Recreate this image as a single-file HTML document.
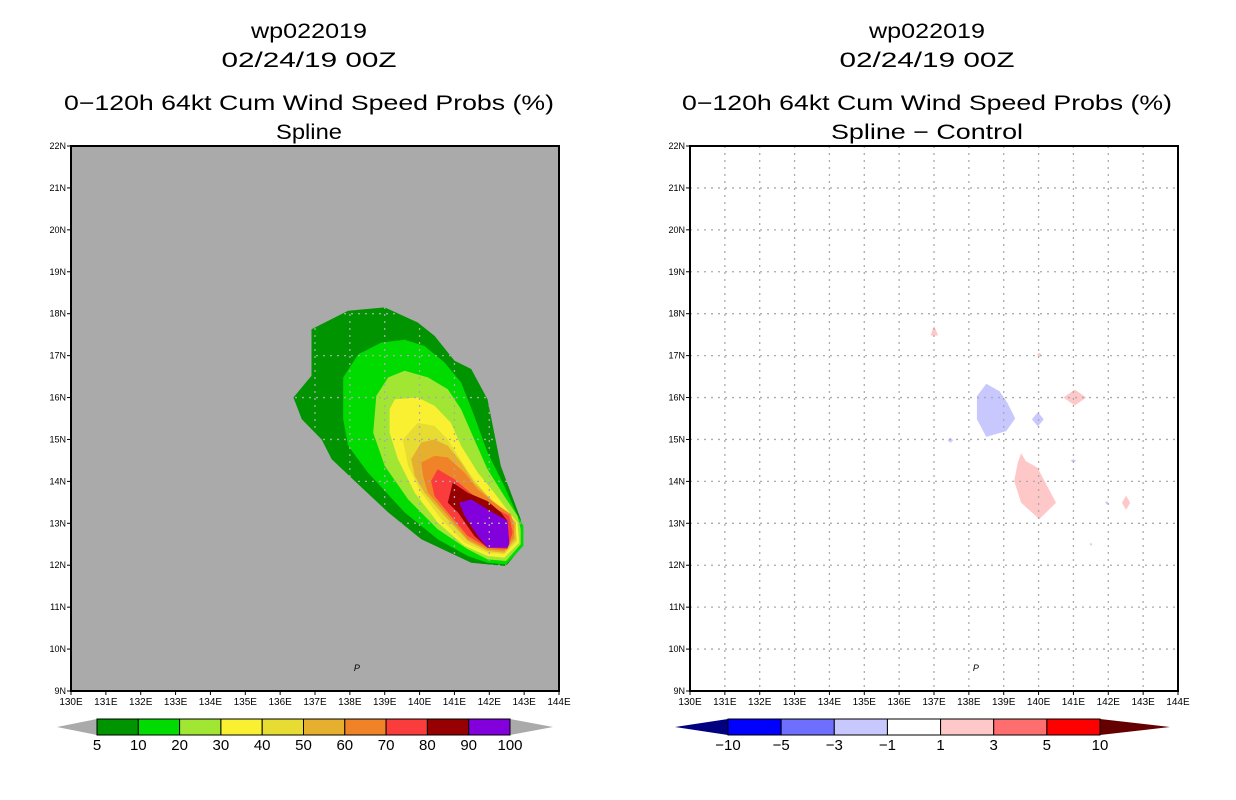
<!DOCTYPE html>
<html><head><meta charset="utf-8"><style>
body{margin:0;background:#fff;}
svg{display:block;font-family:"Liberation Sans",sans-serif;}
</style></head><body>
<svg id="root" width="1236" height="800" xmlns="http://www.w3.org/2000/svg"></svg>
<script>
const NS="http://www.w3.org/2000/svg";
const lonTicks=[130,131,132,133,134,135,136,137,138,139,140,141,142,143,144];
const latTicks=[9,10,11,12,13,14,15,16,17,18,19,20,21,22];
const probLevels=["5","10","20","30","40","50","60","70","80","90","100"];
const probColors=["#009400","#00dc00","#a0e632","#faf032","#e6dc32","#e6af2d","#f08228","#fa3c3c","#960000","#8200dc"];
const diffLevels=["-10","-5","-3","-1","1","3","5","10"];
const diffColors=["#0000ff","#6e6eff","#c8c8ff","#ffffff","#ffc8c8","#ff6e6e","#ff0000"];
const c5=[[136.9,17.63],[137.95,18.07],[139.0,18.15],[139.95,17.79],[140.43,17.47],[141.0,16.88],[141.48,16.68],[141.95,15.96],[142.33,14.37],[142.9,13.1],[142.95,12.46],[142.48,11.98],[141.48,12.06],[140.05,12.62],[139.1,13.26],[138.14,14.01],[137.48,14.53],[137.19,15.0],[136.62,15.48],[136.38,16.0],[136.9,16.52],[136.9,17.15]];
const c10=[[137.81,16.48],[138.24,17.03],[138.9,17.31],[139.57,17.38],[140.14,17.23],[140.71,16.84],[141.19,16.36],[141.57,15.56],[141.95,14.69],[142.43,13.89],[142.81,13.18],[142.98,12.94],[142.98,12.46],[142.48,12.02],[141.95,12.06],[141.38,12.22],[140.52,12.62],[139.57,13.26],[138.52,14.21],[137.95,14.85],[137.81,15.48]];
const c20=[[138.76,16.04],[139.1,16.48],[139.57,16.64],[140.24,16.48],[140.81,16.2],[141.19,15.72],[141.57,15.0],[141.95,14.29],[142.43,13.65],[142.81,13.18],[142.9,12.86],[142.9,12.5],[142.48,12.1],[141.95,12.14],[141.38,12.38],[140.52,12.86],[139.67,13.57],[139.0,14.37],[138.67,15.16]];
const c30=[[139.14,15.72],[139.29,15.96],[139.95,16.0],[140.43,15.8],[140.9,15.4],[141.19,14.85],[141.67,14.21],[142.14,13.73],[142.57,13.26],[142.81,13.02],[142.86,12.54],[142.43,12.18],[141.95,12.22],[141.29,12.46],[140.52,13.02],[139.86,13.73],[139.38,14.53],[139.14,15.16]];
const c40=[[139.52,15.0],[139.95,15.4],[140.43,15.32],[140.81,15.0],[141.1,14.61],[141.48,14.13],[141.95,13.65],[142.43,13.26],[142.71,13.02],[142.81,12.58],[142.43,12.26],[141.95,12.3],[141.29,12.54],[140.62,13.1],[140.05,13.73],[139.67,14.37]];
const c50=[[139.76,14.53],[140.05,14.93],[140.43,15.0],[140.81,14.85],[141.19,14.45],[141.57,13.97],[142.05,13.57],[142.52,13.26],[142.76,13.02],[142.76,12.62],[142.43,12.3],[141.95,12.34],[141.38,12.58],[140.71,13.18],[140.14,13.73],[139.86,14.13]];
const c60=[[140.05,14.45],[140.43,14.61],[140.81,14.57],[141.29,14.21],[141.67,13.81],[142.14,13.49],[142.62,13.22],[142.71,12.94],[142.71,12.66],[142.43,12.34],[141.95,12.38],[141.38,12.62],[140.81,13.18],[140.24,13.73],[140.1,14.13]];
const c70=[[140.33,14.01],[140.52,14.29],[141.0,14.05],[141.57,13.65],[142.14,13.37],[142.57,13.18],[142.67,12.78],[142.52,12.38],[141.95,12.42],[141.38,12.7],[140.81,13.26],[140.43,13.65]];
const c80=[[140.81,13.49],[140.95,13.97],[141.38,13.73],[141.95,13.53],[142.33,13.26],[142.52,13.06],[142.57,12.54],[142.52,12.42],[141.95,12.42],[141.57,12.7],[141.1,13.26]];
const c90=[[141.14,13.49],[141.48,13.57],[141.95,13.33],[142.52,13.06],[142.57,12.5],[142.52,12.42],[141.95,12.42],[141.67,12.7],[141.29,13.18]];
const probContours=[c5,c10,c20,c30,c40,c50,c60,c70,c80,c90];
const negBig=[[138.5,16.33],[138.88,16.15],[139.11,15.87],[139.33,15.5],[139.07,15.2],[138.5,15.06],[138.23,15.48],[138.23,16.03]];
const posBig=[[139.5,14.67],[139.64,14.48],[139.97,14.33],[140.5,13.49],[140.02,13.1],[139.5,13.49],[139.3,14.01],[139.4,14.44]];
const posTri=[[137.0,17.71],[137.12,17.48],[136.9,17.48]];
const negDiamonds=[[139.98,15.48,0.17,0.17],[137.47,14.98,0.08,0.06],[141.0,14.49,0.08,0.04],[141.96,13.49,0.05,0.04],[141.5,12.5,0.03,0.04]];
const posDiamonds=[[140.02,17.02,0.07,0.05],[141.04,16.0,0.33,0.19],[142.51,13.49,0.12,0.17]];

const root=document.getElementById('root');
function el(tag,attrs,parent){const e=document.createElementNS(NS,tag);for(const k in attrs)e.setAttribute(k,attrs[k]);(parent||root).appendChild(e);return e;}
function txt(s,x,y,size,anchor,len,parent){const t=el('text',{x:x,y:y,'font-size':size,'text-anchor':anchor||'middle',fill:'#000'},parent);if(len){t.setAttribute('textLength',len);t.setAttribute('lengthAdjust','spacingAndGlyphs');}t.textContent=s;return t;}

function panel(x0,bg,title4,len4,cx){
  const W=488,H=545,y0=146;
  const X=lon=>x0+(lon-130)/14*W, Y=lat=>y0+(22-lat)/13*H;
  const g=el('g',{});
  
  
  const t1=txt('wp022019',cx,38,21,'middle',116,g);
  const t2=txt('02/24/19 00Z',cx,67,21,'middle',175,g);
  const t3=txt('0\u2212120h 64kt Cum Wind Speed Probs (%)',cx,110,21,'middle',490,g);
  const t4=txt(title4,cx,139,21,'middle',len4,g);
  const r=el('rect',{x:x0,y:y0,width:W,height:H,fill:bg},g);
  
  return {g,X,Y,x0,y0,W,H};
}
function poly(p,pts,fill,name){
  const e=el('polygon',{points:pts.map(q=>p.X(q[0]).toFixed(1)+','+p.Y(q[1]).toFixed(1)).join(' '),fill:fill},p.g);
  
  
}
function diamond(p,d,fill,name){
  poly(p,[[d[0]-d[2],d[1]],[d[0],d[1]+d[3]],[d[0]+d[2],d[1]],[d[0],d[1]-d[3]]],fill,name);
}
function frame(p){
  lonTicks.slice(1,-1).forEach(l=>{const e=el('line',{x1:p.X(l),x2:p.X(l),y1:p.y0,y2:p.y0+p.H,stroke:'#aaa','stroke-width':1.3,'stroke-dasharray':'2,5'},p.g);});
  latTicks.slice(1,-1).forEach(l=>{const e=el('line',{x1:p.x0,x2:p.x0+p.W,y1:p.Y(l),y2:p.Y(l),stroke:'#aaa','stroke-width':1.3,'stroke-dasharray':'2,5'},p.g);});
  const b=el('rect',{x:p.x0,y:p.y0,width:p.W,height:p.H,fill:'none',stroke:'#000','stroke-width':2},p.g);
  
  lonTicks.forEach(l=>{el('line',{x1:p.X(l),x2:p.X(l),y1:p.y0+p.H,y2:p.y0+p.H+4,stroke:'#000'},p.g);const t=txt(l+'E',p.X(l),p.y0+p.H+14,10,'middle',null,p.g);});
  latTicks.forEach(l=>{el('line',{x1:p.x0-4,x2:p.x0,y1:p.Y(l),y2:p.Y(l),stroke:'#000'},p.g);const t=txt(l+'N',p.x0-5,p.Y(l)+3,9,'end',null,p.g);});
  const pm=txt('P',p.X(138.2),p.Y(9.48),9,'middle',null,p.g);pm.setAttribute('font-style','italic');
  
}
function colorbar(g,xl,xs,xe,xr,colors,labels,lc,rc,name,labelOffset){
  const y=719,h=16,n=colors.length,w=(xe-xs)/n;
  const cb=el('g',{},g);
  el('polygon',{points:`${xl},${y+h/2} ${xs},${y} ${xs},${y+h}`,fill:lc},cb);
  el('polygon',{points:`${xr},${y+h/2} ${xe},${y} ${xe},${y+h}`,fill:rc},cb);
  colors.forEach((c,i)=>{const r=el('rect',{x:xs+i*w,y:y,width:w,height:h,fill:c,stroke:'#000','stroke-width':1},cb);});
  labels.forEach((s,i)=>{const t=txt(s.replace('-','\u2212'),xs+(i+labelOffset)*w,y+h+15,15,'middle',null,cb);});
}

const L=panel(71,'#aaa','Spline',66,309);
probContours.forEach((c,i)=>poly(L,c,probColors[i],'prob-contour-'+probLevels[i]));
frame(L);
colorbar(L.g,57,97,510,553,probColors,probLevels,'#aaa','#aaa','prob-colorbar',0);

const R=panel(690,'#fff','Spline \u2212 Control',192,927);
poly(R,negBig,diffColors[2],'neg-diff-area');
negDiamonds.forEach(d=>diamond(R,d,diffColors[2],'neg-diff-spot'));
poly(R,posBig,diffColors[4],'pos-diff-area');
poly(R,posTri,diffColors[4],'pos-diff-spot');
posDiamonds.forEach(d=>diamond(R,d,diffColors[4],'pos-diff-spot'));
frame(R);
colorbar(R.g,675,728,1100,1170,diffColors,diffLevels,'#000080','#640000','diff-colorbar',0);
</script>
</body></html>
